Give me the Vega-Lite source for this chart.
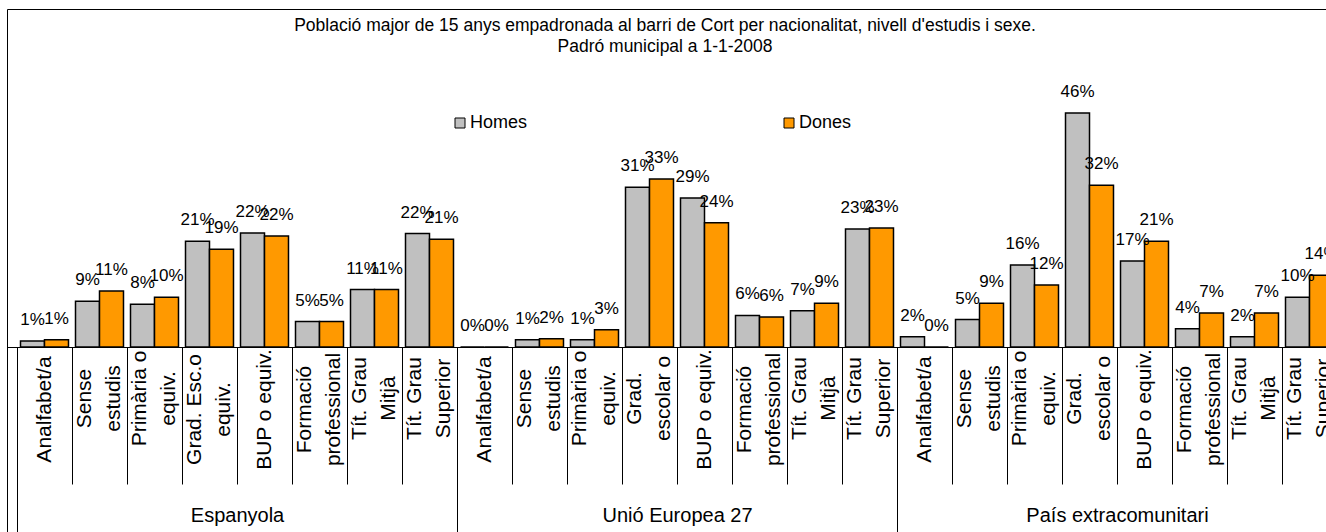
{
  "$schema": "https://vega.github.io/schema/vega-lite/v6.json",
  "autosize": {"type": "none"},
  "width": 1340,
  "height": 523,
  "padding": {"left": 7, "top": 9, "right": 0, "bottom": 0},
  "background": "white",
  "title": {
    "text": ["Població major de 15 anys empadronada al barri de Cort per nacionalitat, nivell d'estudis i sexe.", "Padró municipal a 1-1-2008"],
    "anchor": "middle",
    "frame": "group",
    "orient": "top",
    "baseline": "top",
    "offset": -46,
    "dx": -12,
    "fontSize": 17.5,
    "fontWeight": "normal",
    "font": "Liberation Sans",
    "color": "black",
    "lineHeight": 21
  },
  "data": {
    "values": [
      {"grup": "Espanyola", "clau": "Espanyola|Analfabet/a", "sexe": "Homes", "valor": 0.012},
      {"grup": "Espanyola", "clau": "Espanyola|Analfabet/a", "sexe": "Dones", "valor": 0.014},
      {"grup": "Espanyola", "clau": "Espanyola|Sense|estudis", "sexe": "Homes", "valor": 0.090},
      {"grup": "Espanyola", "clau": "Espanyola|Sense|estudis", "sexe": "Dones", "valor": 0.110},
      {"grup": "Espanyola", "clau": "Espanyola|Primària o|equiv.", "sexe": "Homes", "valor": 0.084},
      {"grup": "Espanyola", "clau": "Espanyola|Primària o|equiv.", "sexe": "Dones", "valor": 0.098},
      {"grup": "Espanyola", "clau": "Espanyola|Grad. Esc.o|equiv.", "sexe": "Homes", "valor": 0.208},
      {"grup": "Espanyola", "clau": "Espanyola|Grad. Esc.o|equiv.", "sexe": "Dones", "valor": 0.192},
      {"grup": "Espanyola", "clau": "Espanyola|BUP o equiv.", "sexe": "Homes", "valor": 0.224},
      {"grup": "Espanyola", "clau": "Espanyola|BUP o equiv.", "sexe": "Dones", "valor": 0.218},
      {"grup": "Espanyola", "clau": "Espanyola|Formació|professional", "sexe": "Homes", "valor": 0.050},
      {"grup": "Espanyola", "clau": "Espanyola|Formació|professional", "sexe": "Dones", "valor": 0.050},
      {"grup": "Espanyola", "clau": "Espanyola|Tít. Grau|Mitjà", "sexe": "Homes", "valor": 0.113},
      {"grup": "Espanyola", "clau": "Espanyola|Tít. Grau|Mitjà", "sexe": "Dones", "valor": 0.113},
      {"grup": "Espanyola", "clau": "Espanyola|Tít. Grau|Superior", "sexe": "Homes", "valor": 0.223},
      {"grup": "Espanyola", "clau": "Espanyola|Tít. Grau|Superior", "sexe": "Dones", "valor": 0.212},
      {"grup": "Unió Europea 27", "clau": "Unió Europea 27|Analfabet/a", "sexe": "Homes", "valor": 0.0},
      {"grup": "Unió Europea 27", "clau": "Unió Europea 27|Analfabet/a", "sexe": "Dones", "valor": 0.0},
      {"grup": "Unió Europea 27", "clau": "Unió Europea 27|Sense|estudis", "sexe": "Homes", "valor": 0.014},
      {"grup": "Unió Europea 27", "clau": "Unió Europea 27|Sense|estudis", "sexe": "Dones", "valor": 0.016},
      {"grup": "Unió Europea 27", "clau": "Unió Europea 27|Primària o|equiv.", "sexe": "Homes", "valor": 0.014},
      {"grup": "Unió Europea 27", "clau": "Unió Europea 27|Primària o|equiv.", "sexe": "Dones", "valor": 0.034},
      {"grup": "Unió Europea 27", "clau": "Unió Europea 27|Grad.|escolar o", "sexe": "Homes", "valor": 0.314},
      {"grup": "Unió Europea 27", "clau": "Unió Europea 27|Grad.|escolar o", "sexe": "Dones", "valor": 0.330},
      {"grup": "Unió Europea 27", "clau": "Unió Europea 27|BUP o equiv.", "sexe": "Homes", "valor": 0.293},
      {"grup": "Unió Europea 27", "clau": "Unió Europea 27|BUP o equiv.", "sexe": "Dones", "valor": 0.244},
      {"grup": "Unió Europea 27", "clau": "Unió Europea 27|Formació|professional", "sexe": "Homes", "valor": 0.062},
      {"grup": "Unió Europea 27", "clau": "Unió Europea 27|Formació|professional", "sexe": "Dones", "valor": 0.059},
      {"grup": "Unió Europea 27", "clau": "Unió Europea 27|Tít. Grau|Mitjà", "sexe": "Homes", "valor": 0.071},
      {"grup": "Unió Europea 27", "clau": "Unió Europea 27|Tít. Grau|Mitjà", "sexe": "Dones", "valor": 0.086},
      {"grup": "Unió Europea 27", "clau": "Unió Europea 27|Tít. Grau|Superior", "sexe": "Homes", "valor": 0.232},
      {"grup": "Unió Europea 27", "clau": "Unió Europea 27|Tít. Grau|Superior", "sexe": "Dones", "valor": 0.234},
      {"grup": "País extracomunitari", "clau": "País extracomunitari|Analfabet/a", "sexe": "Homes", "valor": 0.020},
      {"grup": "País extracomunitari", "clau": "País extracomunitari|Analfabet/a", "sexe": "Dones", "valor": 0.0},
      {"grup": "País extracomunitari", "clau": "País extracomunitari|Sense|estudis", "sexe": "Homes", "valor": 0.054},
      {"grup": "País extracomunitari", "clau": "País extracomunitari|Sense|estudis", "sexe": "Dones", "valor": 0.086},
      {"grup": "País extracomunitari", "clau": "País extracomunitari|Primària o|equiv.", "sexe": "Homes", "valor": 0.161},
      {"grup": "País extracomunitari", "clau": "País extracomunitari|Primària o|equiv.", "sexe": "Dones", "valor": 0.122},
      {"grup": "País extracomunitari", "clau": "País extracomunitari|Grad.|escolar o", "sexe": "Homes", "valor": 0.460},
      {"grup": "País extracomunitari", "clau": "País extracomunitari|Grad.|escolar o", "sexe": "Dones", "valor": 0.318},
      {"grup": "País extracomunitari", "clau": "País extracomunitari|BUP o equiv.", "sexe": "Homes", "valor": 0.169},
      {"grup": "País extracomunitari", "clau": "País extracomunitari|BUP o equiv.", "sexe": "Dones", "valor": 0.208},
      {"grup": "País extracomunitari", "clau": "País extracomunitari|Formació|professional", "sexe": "Homes", "valor": 0.036},
      {"grup": "País extracomunitari", "clau": "País extracomunitari|Formació|professional", "sexe": "Dones", "valor": 0.067},
      {"grup": "País extracomunitari", "clau": "País extracomunitari|Tít. Grau|Mitjà", "sexe": "Homes", "valor": 0.020},
      {"grup": "País extracomunitari", "clau": "País extracomunitari|Tít. Grau|Mitjà", "sexe": "Dones", "valor": 0.067},
      {"grup": "País extracomunitari", "clau": "País extracomunitari|Tít. Grau|Superior", "sexe": "Homes", "valor": 0.098},
      {"grup": "País extracomunitari", "clau": "País extracomunitari|Tít. Grau|Superior", "sexe": "Dones", "valor": 0.141}
    ]
  },
  "layer": [
    {
      "layer": [
        {
          "mark": {"type": "bar", "stroke": "black", "strokeWidth": 1.5},
          "encoding": {
            "x": {
              "field": "clau", "type": "nominal", "sort": null,
              "scale": {"paddingInner": 0, "paddingOuter": 0.1818},
              "axis": {
                "orient": "bottom", "offset": -185, "title": null, "grid": false,
                "domain": true, "domainColor": "black", "domainWidth": 1,
                "ticks": true, "tickBand": "extent", "tickSize": 137, "tickColor": "black", "tickWidth": 1,
                "labelAngle": 270, "labelAlign": "center", "labelBaseline": "middle",
                "labelPadding": {"condition": {"test": "length(split(datum.value, '|')) > 2 && indexof(datum.value, 'professional') < 0 && indexof(datum.value, 'Esc.o') < 0", "value": -86}, "value": -75},
                "labelOffset": {"condition": {"test": "length(split(datum.value, '|')) > 2", "value": -15}, "value": 0},
                "labelFontSize": 21, "labelLineHeight": 29,
                "labelColor": "black", "labelFont": "Liberation Sans",
                "labelOverlap": false, "labelLimit": 300, "labelFlush": false,
                "labelExpr": "slice(split(datum.value, '|'), 1)"
              }
            },
            "xOffset": {"field": "sexe", "type": "nominal", "sort": ["Homes", "Dones"], "scale": {"paddingInner": 0, "paddingOuter": 0.146}},
            "y": {"field": "valor", "type": "quantitative", "scale": {"domain": [-0.3637, 0.6644], "nice": false, "zero": false}, "axis": null},
            "color": {
              "field": "sexe", "type": "nominal", "sort": ["Homes", "Dones"],
              "scale": {"domain": ["Homes", "Dones"], "range": ["#C0C0C0", "#FF9900"]},
              "legend": {
                "title": null, "orient": "none", "direction": "horizontal",
                "legendX": 444, "legendY": 105, "padding": 0,
                "symbolType": "square", "symbolSize": 100, "symbolStrokeColor": "black", "symbolStrokeWidth": 1,
                "labelFontSize": 18, "labelFont": "Liberation Sans", "labelColor": "black", "labelOffset": 1,
                "columnPadding": 252
              }
            }
          }
        },
        {
          "mark": {"type": "text", "baseline": "alphabetic", "dy": -16, "fontSize": 17, "font": "Liberation Sans", "color": "black"},
          "encoding": {
            "x": {"field": "clau", "type": "nominal", "sort": null},
            "xOffset": {"field": "sexe", "type": "nominal", "sort": ["Homes", "Dones"]},
            "y": {"field": "valor", "type": "quantitative"},
            "text": {"field": "valor", "type": "quantitative", "format": ".0%"}
          }
        }
      ]
    },
    {
      "mark": {"type": "point", "opacity": 0},
      "encoding": {
        "x": {
          "field": "grup", "type": "nominal", "sort": null,
          "scale": {"paddingInner": 0, "paddingOuter": 0.02273},
          "axis": {
            "orient": "bottom", "offset": -185, "title": null, "grid": false,
            "domain": false,
            "ticks": true, "tickBand": "extent", "tickSize": 185, "tickColor": "black", "tickWidth": 1,
            "labelAngle": 0, "labelAlign": "center", "labelBaseline": "middle",
            "labelPadding": -17, "labelFontSize": 20, "labelColor": "black", "labelFont": "Liberation Sans",
            "labelOverlap": false, "labelFlush": false, "labelLimit": 0
          }
        }
      }
    }
  ],
  "resolve": {"scale": {"x": "independent"}, "axis": {"x": "independent"}},
  "config": {
    "font": "Liberation Sans",
    "view": {"stroke": "black", "strokeWidth": 1}
  }
}
